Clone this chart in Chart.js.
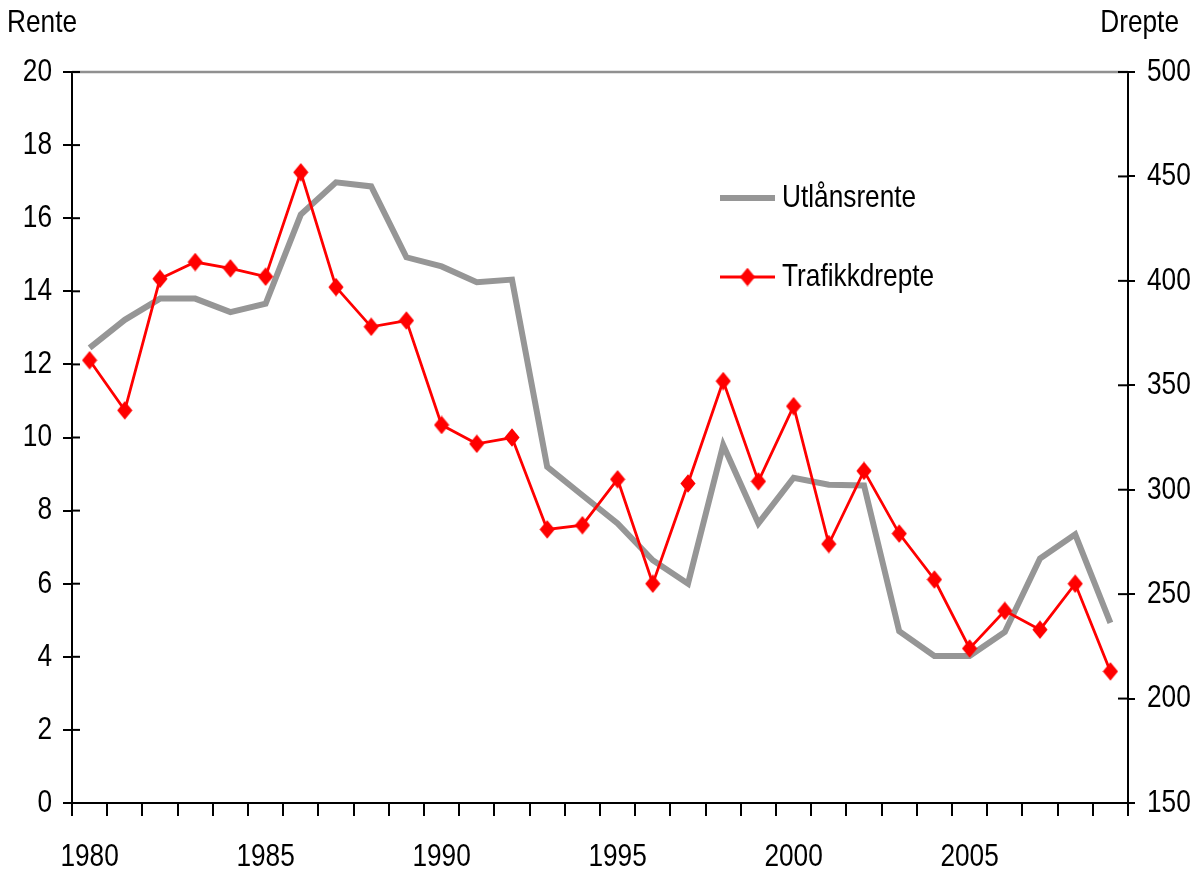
<!DOCTYPE html>
<html>
<head>
<meta charset="utf-8">
<script src="https://cdn.jsdelivr.net/npm/chart.js@4/dist/chart.umd.min.js"></script>
<style>
html,body{margin:0;padding:0;background:#fff;}
#wrap{width:1194px;height:875px;position:relative;}
</style>
</head>
<body>
<div id="wrap"><canvas id="c" width="1194" height="875"></canvas></div>
<script>
const years = [1980,1981,1982,1983,1984,1985,1986,1987,1988,1989,1990,1991,1992,1993,1994,1995,1996,1997,1998,1999,2000,2001,2002,2003,2004,2005,2006,2007,2008,2009];
const utlansrente = [12.45,13.22,13.8,13.8,13.43,13.66,16.1,16.98,16.87,14.93,14.68,14.25,14.32,9.2,8.42,7.65,6.64,6.0,9.79,7.65,8.9,8.71,8.69,4.7,4.02,4.02,4.68,6.69,7.35,4.93];
const trafikkdrepte = [362,338,401,409,406,402,452,397,378,381,331,322,325,281,283,305,255,303,352,304,340,274,309,279,257,224,242,233,255,213];
const leftTitle = "Rente";
const rightTitle = "Drepte";
const seriesNames = ["Utlånsrente","Trafikkdrepte"];

const FONT = "'Liberation Sans', Arial, sans-serif";
const FS = 32;
const SX = 0.82; // horizontal condensing to mimic a narrow face

// diamond marker image
const diamond = document.createElement('canvas');
diamond.width = 16; diamond.height = 19;
(function(){
  const g = diamond.getContext('2d');
  g.fillStyle = '#ff0000';
  g.beginPath(); g.moveTo(8, 0.3); g.lineTo(15.6, 9.5); g.lineTo(8, 18.7); g.lineTo(0.4, 9.5); g.closePath(); g.fill();
})();

function narrowText(ctx, text, x, y, align, baseline){
  ctx.save();
  ctx.translate(x, y);
  ctx.scale(SX, 1);
  ctx.textAlign = align; ctx.textBaseline = baseline;
  ctx.fillText(text, 0, 0);
  ctx.restore();
}

const decor = {
  id:'decor',
  afterDraw(chart){
    const ctx = chart.ctx, a = chart.chartArea;
    ctx.save();
    // top border
    ctx.strokeStyle = '#909090'; ctx.lineWidth = 2.5;
    ctx.beginPath(); ctx.moveTo(a.left, a.top); ctx.lineTo(a.right, a.top); ctx.stroke();
    // inner tick parts
    ctx.strokeStyle = '#000'; ctx.lineWidth = 2;
    const yl = chart.scales.y, yr = chart.scales.y2, xs = chart.scales.x;
    yl.ticks.forEach((t,i)=>{ const p = yl.getPixelForTick(i); ctx.beginPath(); ctx.moveTo(a.left, p); ctx.lineTo(a.left+8, p); ctx.stroke(); });
    yr.ticks.forEach((t,i)=>{ const p = yr.getPixelForTick(i); ctx.beginPath(); ctx.moveTo(a.right, p); ctx.lineTo(a.right-10, p); ctx.stroke(); });
    // tick labels
    ctx.fillStyle = '#000'; ctx.font = FS + 'px ' + FONT;
    yl.ticks.forEach((t,i)=>{ narrowText(ctx, t.label, a.left - 20, yl.getPixelForTick(i), 'right', 'middle'); });
    yr.ticks.forEach((t,i)=>{ narrowText(ctx, t.label, a.right + 19, yr.getPixelForTick(i), 'left', 'middle'); });
    xs.ticks.forEach((t,i)=>{ const y = years[i]; if (y % 5 === 0) narrowText(ctx, String(y), xs.getPixelForTick(i), 857, 'center', 'middle'); });
    // axis titles
    narrowText(ctx, leftTitle, 7, 32, 'left', 'alphabetic');
    narrowText(ctx, rightTitle, 1179, 32, 'right', 'alphabetic');
    // legend
    const ds = chart.data.datasets;
    const lx0 = 720, lx1 = 775, tx = 782;
    const ys = [198, 277];
    ds.forEach((d,i)=>{
      const yy = ys[i];
      ctx.strokeStyle = d.borderColor; ctx.lineWidth = d.borderWidth;
      ctx.beginPath(); ctx.moveTo(lx0, yy); ctx.lineTo(lx1, yy); ctx.stroke();
      if (d.pointRadius > 0) {
        ctx.drawImage(diamond, (lx0 + lx1) / 2 - diamond.width / 2, yy - diamond.height / 2);
      }
      ctx.fillStyle = '#000';
      narrowText(ctx, d.label, tx, yy, 'left', 'middle');
    });
    ctx.restore();
  }
};

new Chart(document.getElementById('c'), {
  type: 'line',
  data: {
    labels: years,
    datasets: [
      { label: seriesNames[0], data: utlansrente, yAxisID: 'y', borderColor: '#969696', backgroundColor: '#969696', borderWidth: 6, pointRadius: 0, tension: 0, order: 1 },
      { label: seriesNames[1], data: trafikkdrepte, yAxisID: 'y2', borderColor: '#ff0000', backgroundColor: '#ff0000', borderWidth: 2.8, pointStyle: diamond, pointRadius: 8, tension: 0, order: 0 }
    ]
  },
  options: {
    responsive: false,
    animation: false,
    devicePixelRatio: 1,
    layout: { padding: { top: 72, left: 0, right: 0, bottom: 0 } },
    plugins: { legend: { display: false }, tooltip: { enabled: false } },
    scales: {
      x: {
        type: 'category',
        offset: true,
        grid: { offset: true, drawOnChartArea: false, drawTicks: true, tickLength: 13, color: '#000', tickColor: '#000', lineWidth: 2 },
        border: { display: true, color: '#000', width: 2 },
        ticks: { display: false, autoSkip: false, maxRotation: 0, minRotation: 0 },
        afterFit(s){ s.height = 72; }
      },
      y: {
        position: 'left', min: 0, max: 20,
        grid: { drawOnChartArea: false, drawTicks: true, tickLength: 9, tickColor: '#000', color: '#000', lineWidth: 2 },
        border: { display: true, color: '#000', width: 2 },
        ticks: { display: false, stepSize: 2 },
        afterFit(s){ s.width = 72; }
      },
      y2: {
        position: 'right', min: 150, max: 500,
        grid: { drawOnChartArea: false, drawTicks: true, tickLength: 7, tickColor: '#000', color: '#000', lineWidth: 2 },
        border: { display: true, color: '#000', width: 2 },
        ticks: { display: false, stepSize: 50 },
        afterFit(s){ s.width = 66; }
      }
    }
  },
  plugins: [decor]
});
</script>
</body>
</html>
